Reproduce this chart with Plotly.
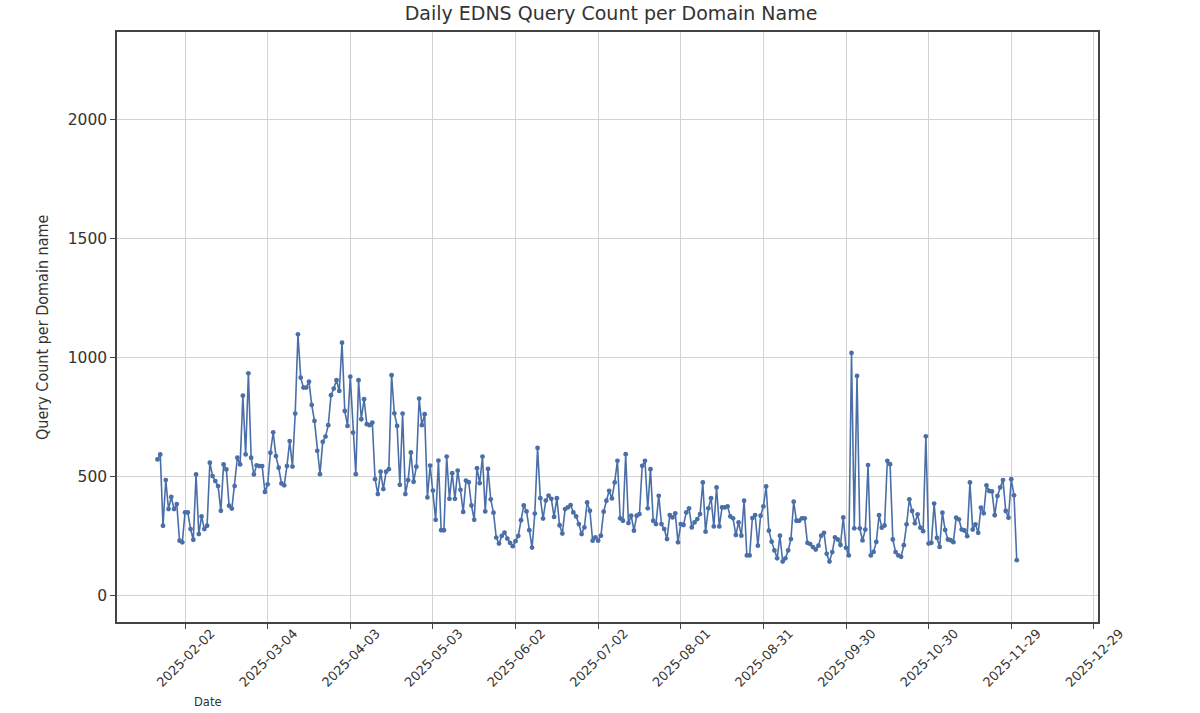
import pandas as pd
import plotly.graph_objects as go

# Daily EDNS query count per domain name, one value per day, grouped by month
jan = [572, 593, 293, 485, 363, 414, 363, 384, 230]  # starts 2025-01-23
feb = [223, 349, 349, 279, 234, 509, 258, 332, 279, 293, 558, 502, 481, 460, 356,
       551, 530, 377, 365, 460, 579, 551, 840, 593, 934, 579, 509, 547]
mar = [544, 544, 435, 467, 600, 686, 586, 537, 471, 463, 544, 649, 542, 765, 1098,
       916, 874, 874, 899, 801, 734, 608, 510, 646, 668, 716, 842, 870, 905, 860, 1063]
apr = [776, 713, 920, 685, 510, 905, 741, 825, 720, 716, 727, 489, 426, 520, 447,
       520, 531, 926, 766, 713, 465, 765, 426, 485, 601, 478, 541, 828, 716, 762]
may = [412, 546, 441, 318, 567, 274, 274, 584, 406, 514, 406, 525, 444, 351, 483,
       476, 378, 318, 535, 472, 584, 353, 532, 404, 348, 243, 218, 250, 264, 239, 221]
jun = [207, 228, 250, 316, 378, 353, 274, 201, 344, 620, 409, 323, 399, 420, 406,
       330, 409, 295, 260, 363, 370, 380, 349, 332, 300, 258, 286, 391, 356, 230]
jul = [244, 230, 251, 352, 398, 440, 408, 475, 566, 324, 314, 594, 304, 335, 272,
       335, 342, 545, 566, 366, 531, 314, 300, 419, 300, 279, 237, 338, 328, 345, 223]
aug = [300, 296, 349, 366, 286, 307, 321, 342, 475, 268, 366, 409, 290, 454, 290,
       370, 370, 374, 332, 324, 254, 307, 251, 398, 168, 168, 325, 338, 209, 335, 374]
sep = [458, 272, 226, 189, 156, 251, 142, 156, 189, 237, 394, 314, 314, 324, 324,
       221, 216, 203, 193, 209, 251, 263, 175, 142, 182, 244, 235, 212, 328, 200]
oct_ = [168, 1020, 282, 923, 282, 231, 277, 548, 168, 183, 225, 337, 285, 294, 566,
        552, 235, 182, 168, 162, 211, 299, 404, 355, 303, 341, 285, 270, 669, 218, 221]
nov = [386, 242, 204, 348, 275, 235, 232, 224, 327, 320, 277, 273, 249, 475, 277,
       299, 263, 369, 345, 463, 439, 437, 337, 418, 454, 485, 355, 327, 489, 421]
dec = [148]

month_starts = ["2025-01-23", "2025-02-01", "2025-03-01", "2025-04-01", "2025-05-01",
                "2025-06-01", "2025-07-01", "2025-08-01", "2025-09-01", "2025-10-01",
                "2025-11-01", "2025-12-01"]
month_values = [jan, feb, mar, apr, may, jun, jul, aug, sep, oct_, nov, dec]

x_tick_labels = ["2025-02-02", "2025-03-04", "2025-04-03", "2025-05-03", "2025-06-02",
                 "2025-07-02", "2025-08-01", "2025-08-31", "2025-09-30", "2025-10-30",
                 "2025-11-29", "2025-12-29"]
y_tick_values = [0, 500, 1000, 1500, 2000]

dates = []
values = []
for start, vals in zip(month_starts, month_values):
    dates.extend(pd.date_range(start, periods=len(vals), freq="D"))
    values.extend(vals)

color = "#4a6fa8"
text_color = "#333333"
fig = go.Figure()
fig.add_trace(go.Scatter(
    x=dates, y=values, mode="lines+markers",
    line=dict(color=color, width=1.6),
    marker=dict(color=color, size=4.8),
    hoverinfo="x+y",
))

W, H = 1200, 713
fig.update_layout(
    width=W, height=H,
    margin=dict(l=117, r=102, t=32, b=91),
    plot_bgcolor="white", paper_bgcolor="white",
    showlegend=False,
    title=dict(text="Daily EDNS Query Count per Domain Name",
               x=611 / W, xanchor="center", y=1 - 13 / H, yanchor="middle",
               font=dict(family="DejaVu Sans", size=19, color=text_color)),
    font=dict(family="DejaVu Sans", color=text_color),
)

fig.update_xaxes(
    type="date",
    range=["2025-01-08 07:00", "2025-12-30 12:00"],
    tickmode="array", tickvals=x_tick_labels, ticktext=x_tick_labels,
    tickangle=-45, ticks="outside", ticklen=5, tickcolor="#444",
    ticklabelshift=26, ticklabelstandoff=-8,
    tickfont=dict(family="DejaVu Sans", size=13, color=text_color),
    showgrid=True, gridcolor="#d2d2d2", gridwidth=1,
    showline=True, mirror=True, linecolor="#444", linewidth=1.5,
    zeroline=False,
)
fig.update_yaxes(
    range=[-112, 2370],
    tickmode="array", tickvals=y_tick_values,
    ticks="outside", ticklen=5, tickcolor="#444",
    tickfont=dict(family="DejaVu Sans", size=15.5, color=text_color),
    showgrid=True, gridcolor="#d2d2d2", gridwidth=1,
    showline=True, mirror=True, linecolor="#444", linewidth=1.5,
    zeroline=False,
)

fig.add_annotation(
    text="Query Count per Domain name", textangle=-90,
    xref="paper", yref="paper", x=-0.0765, y=0.5,
    xanchor="center", yanchor="middle", showarrow=False,
    font=dict(family="Liberation Sans Narrow, DejaVu Sans Condensed, sans-serif",
              size=16, color=text_color),
)
fig.add_annotation(
    text="Date", xref="paper", yref="paper", x=0.0928, y=-0.1356,
    xanchor="center", yanchor="middle", showarrow=False,
    font=dict(family="DejaVu Sans", size=11.5, color=text_color),
)

fig.write_html("out.html", config={"displayModeBar": False},
               post_script="document.body.style.margin='0';")
